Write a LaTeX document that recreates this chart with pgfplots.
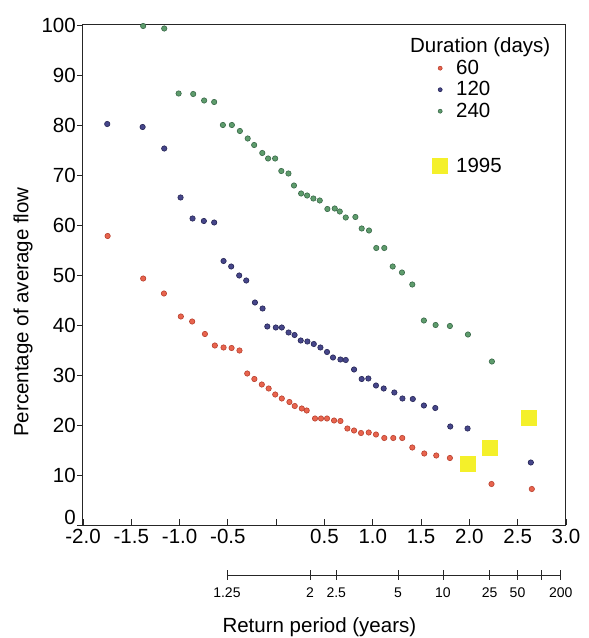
\documentclass[border=0pt]{standalone}
\usepackage{fontspec}
\setmainfont{Liberation Sans}
\usepackage{pgfplots}
\pgfplotsset{compat=1.18}

\definecolor{c60}{HTML}{E8644E}
\definecolor{c60d}{HTML}{B8402E}
\definecolor{c120}{HTML}{46468A}
\definecolor{c120d}{HTML}{242454}
\definecolor{c240}{HTML}{5E9C6C}
\definecolor{c240d}{HTML}{386848}
\definecolor{yel}{HTML}{F4F02A}

\newcommand{\bigfont}{\fontsize{20.5}{24}\selectfont}

\pgfplotsset{
  dotlegend/.style={legend image code/.code={\draw[##1, mark size=2pt] plot coordinates {(0pt,0pt)};}},
  sqlegend/.style={legend image code/.code={\draw[##1] plot coordinates {(0pt,0pt)};}},
}

\begin{document}
\begin{tikzpicture}
\path[use as bounding box] (-83pt,-113pt) rectangle (506pt,525pt);

% main chart: flow against reduced variate
\begin{axis}[
    at={(0pt,0pt)}, anchor=south west,
    scale only axis, width=483pt, height=500pt,
    xmin=-2, xmax=3, ymin=0, ymax=100,
    xtick={-2,-1.5,-1,-0.5,0,0.5,1,1.5,2,2.5,3},
    xticklabels={-2.0,-1.5,-1.0,-0.5,,0.5,1.0,1.5,2.0,2.5,3.0},
    ytick={10,20,30,40,50,60,70,80,90,100},
    yticklabels={10,20,30,40,50,60,70,80,90,100},
    extra y ticks={0}, extra y tick labels={0},
    extra y tick style={yticklabel style={yshift=8pt}},
    xtick pos=bottom, ytick pos=left,
    xtick align=inside, ytick align=outside,
    major tick length=6pt,
    tick style={line width=0.8pt, black!85},
    axis line style={line width=1pt, black!85},
    tick label style={font=\bigfont},
    xticklabel style={inner sep=0pt, anchor=north, yshift=-4pt},
    yticklabel style={inner sep=0pt, anchor=east, xshift=-1pt},
    clip=false,
    legend cell align=left,
    legend style={at={(rel axis cs:0.7236,0.976)}, anchor=north west,
        draw=none, fill=none, inner sep=0pt, row sep=2.5pt, column sep=8.5pt,
        font=\bigfont, nodes={inner sep=0pt, text height=15.5pt, text depth=3.5pt}},
    dotlegend,
    every axis plot/.append style={only marks, mark=*, mark size=2.7pt, line width=0.6pt},
]
\addlegendimage{empty legend}
\addlegendentry{\hspace{-46pt}Duration (days)}

\addplot[mark options={fill=c60, draw=c60d}] coordinates {
(-1.745,57.8) (-1.377,49.3) (-1.162,46.3) (-0.987,41.7) (-0.870,40.7)
(-0.738,38.2) (-0.635,35.9) (-0.545,35.5) (-0.462,35.4) (-0.380,34.9)
(-0.300,30.3) (-0.226,29.2) (-0.149,28.1) (-0.078,27.3) (-0.010,26.1)
(0.058,25.3) (0.137,24.6) (0.192,23.8) (0.265,23.3) (0.316,22.9)
(0.402,21.3) (0.464,21.3) (0.526,21.3) (0.599,20.9) (0.665,20.8)
(0.737,19.3) (0.806,18.9) (0.878,18.4) (0.958,18.5) (1.033,18.1)
(1.119,17.4) (1.212,17.4) (1.305,17.4) (1.409,15.5) (1.533,14.3)
(1.657,13.9) (1.798,13.4) (2.229,8.2) (2.646,7.2)
};
\addlegendentry{60}

\addplot[mark options={fill=c120, draw=c120d}] coordinates {
(-1.749,80.2) (-1.383,79.6) (-1.159,75.3) (-0.990,65.5) (-0.866,61.3)
(-0.749,60.8) (-0.642,60.5) (-0.545,52.8) (-0.466,51.7) (-0.383,49.9)
(-0.310,48.9) (-0.220,44.5) (-0.141,43.3) (-0.092,39.7) (-0.004,39.5)
(0.058,39.5) (0.128,38.5) (0.190,38.0) (0.254,36.9) (0.323,36.7)
(0.389,36.2) (0.458,35.5) (0.526,34.6) (0.588,33.5) (0.665,33.1)
(0.720,33.0) (0.806,31.1) (0.885,29.2) (0.954,29.3) (1.033,27.9)
(1.113,27.3) (1.223,26.5) (1.307,25.3) (1.414,25.2) (1.529,23.9)
(1.647,23.4) (1.802,19.7) (1.981,19.3) (2.636,12.5)
};
\addlegendentry{120}

\addplot[mark options={fill=c240, draw=c240d}] coordinates {
(-1.377,99.8) (-1.159,99.3) (-1.010,86.3) (-0.859,86.2) (-0.746,84.9)
(-0.642,84.6) (-0.552,80.0) (-0.459,80.0) (-0.376,78.8) (-0.295,77.3)
(-0.228,76.0) (-0.144,74.4) (-0.084,73.3) (-0.011,73.3) (0.053,70.8)
(0.127,70.3) (0.184,67.9) (0.258,66.3) (0.320,65.9) (0.385,65.3)
(0.451,64.9) (0.530,63.2) (0.606,63.3) (0.658,62.7) (0.720,61.5)
(0.820,61.6) (0.885,59.3) (0.961,58.9) (1.036,55.4) (1.119,55.4)
(1.206,51.7) (1.302,50.5) (1.409,48.1) (1.529,40.9) (1.650,40.0)
(1.798,39.8) (1.985,38.1) (2.233,32.7)
};
\addlegendentry{240}

\addlegendimage{empty legend}
\addlegendentry[text depth=15.5pt]{}

\addplot[mark=square*, mark size=7.5pt, mark options={fill=yel, draw=yel}, sqlegend] coordinates {
(1.985,12.3) (2.215,15.5) (2.618,21.5)
};
\addlegendentry{1995}

\node[rotate=90, anchor=base, font=\bigfont] at (rel axis cs:-0.1133,0.426) {Percentage of average flow};
\end{axis}

% return period scale underneath
\begin{axis}[
    at={(0pt,-50pt)}, anchor=south west,
    scale only axis, width=483pt, height=1pt,
    xmin=-2, xmax=3, ymin=0, ymax=1,
    hide y axis,
    axis line style={draw=none},
    xtick={-0.51,0.349,0.622,1.261,1.726,2.209,2.498,2.743,2.946},
    xticklabels={1.25,2,2.5,5,10,25,50,,200},
    xtick pos=bottom, xtick align=center,
    major tick length=10pt,
    tick style={line width=0.8pt, black!85},
    tick label style={font=\fontsize{14}{16}\selectfont},
    xticklabel style={inner sep=0pt, anchor=north, yshift=-8pt},
    clip=false,
]
\draw[line width=0.8pt, black!85] (axis cs:-0.51,0) -- (axis cs:2.946,0);
\node[anchor=base, font=\bigfont] at ([yshift=-57pt]axis cs:0.447,0) {Return period (years)};
\end{axis}
\end{tikzpicture}
\end{document}
